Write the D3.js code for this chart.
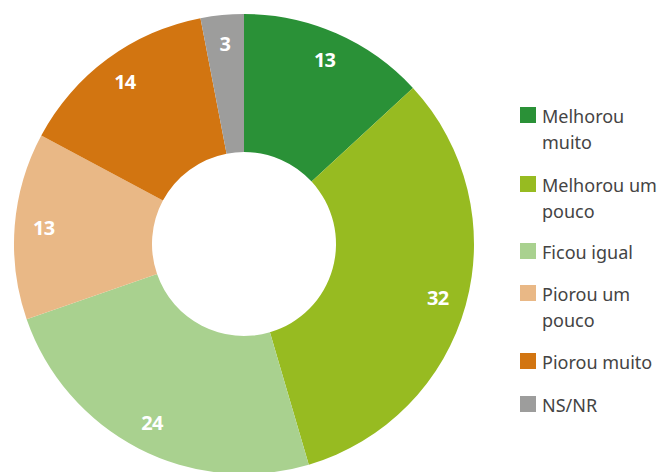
<!DOCTYPE html>
<html>
<head>
<meta charset="utf-8">
<script src="https://cdn.jsdelivr.net/npm/d3@7"></script>
<style>
  body { margin: 0; background: #fff; }
  svg { display: block; }
</style>
</head>
<body>
<svg id="chart" width="661" height="472"></svg>
<script>
var categories = ["Melhorou muito", "Melhorou um pouco", "Ficou igual", "Piorou um pouco", "Piorou muito", "NS/NR"];
var values = [13, 32, 24, 13, 14, 3];
var colors = ["#2a9137", "#97bb21", "#a9d18f", "#e9b886", "#d27511", "#9d9d9c"];
// legend lines, wrapped like the original
var legendLines = [["Melhorou", "muito"], ["Melhorou um", "pouco"], ["Ficou igual"], ["Piorou um", "pouco"], ["Piorou muito"], ["NS/NR"]];

var cx = 244, cy = 244, outerR = 230, innerR = 92, labelR = 201;

var svg = d3.select("#chart");

var pie = d3.pie().sort(null).value(d => d);
var arc = d3.arc().innerRadius(innerR).outerRadius(outerR);
var labelArc = d3.arc().innerRadius(labelR).outerRadius(labelR);

var g = svg.append("g").attr("transform", `translate(${cx},${cy})`);

var arcs = pie(values);

g.selectAll("path")
  .data(arcs)
  .enter().append("path")
  .attr("d", arc)
  .attr("fill", (d, i) => colors[i]);

g.selectAll("text")
  .data(arcs)
  .enter().append("text")
  .attr("transform", d => `translate(${labelArc.centroid(d)})`)
  .attr("text-anchor", "middle")
  .attr("dy", "0.36em")
  .attr("fill", "#fff")
  .attr("font-family", "'Noto Sans', sans-serif")
  .attr("font-weight", "bold")
  .attr("font-size", 20)
  .attr("letter-spacing", -0.8)
  .text(d => d.data);

// legend
var rowY = [107, 176, 243, 285, 353, 396];
var legend = svg.append("g").attr("transform", "translate(520,0)");
var item = legend.selectAll("g")
  .data(categories)
  .enter().append("g")
  .attr("transform", (d, i) => `translate(0,${rowY[i]})`);

item.append("rect")
  .attr("width", 16)
  .attr("height", 16)
  .attr("fill", (d, i) => colors[i]);

item.append("text")
  .attr("x", 22)
  .attr("y", 16)
  .attr("fill", "#444")
  .attr("font-family", "'Noto Sans', sans-serif")
  .attr("font-size", 18)
  .each(function(d, i) {
    var t = d3.select(this);
    legendLines[i].forEach((line, k) => {
      t.append("tspan").attr("x", 22).attr("dy", k ? 26 : 0).text(line);
    });
  });
</script>
</body>
</html>
